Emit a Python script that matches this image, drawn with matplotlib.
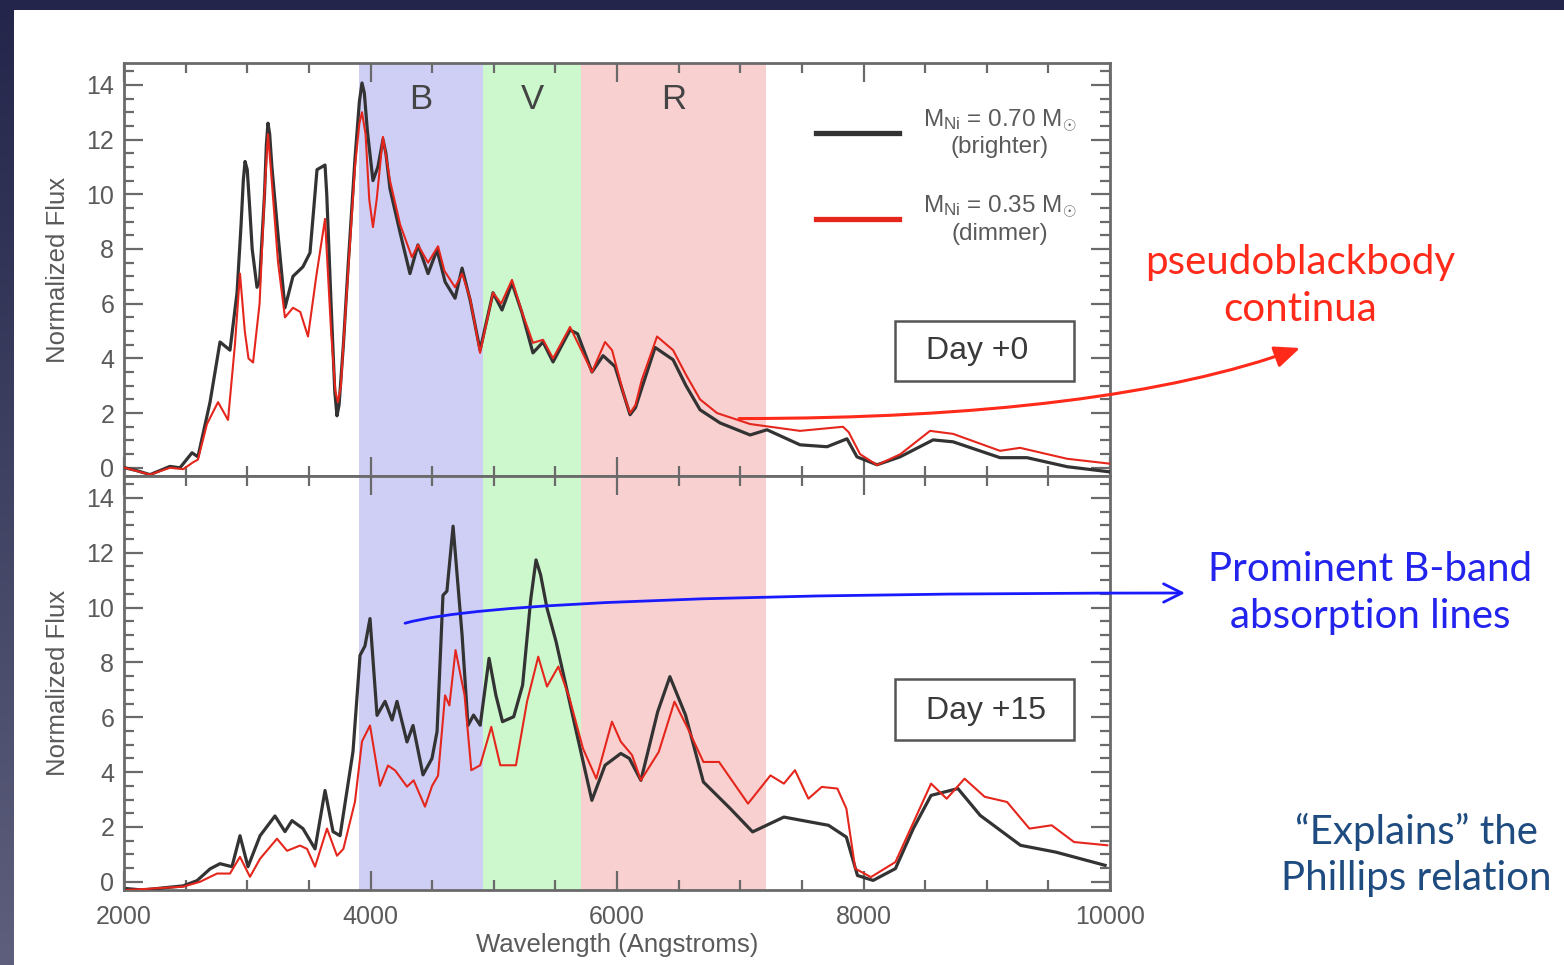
import numpy as np
import matplotlib
matplotlib.use("Agg")
import matplotlib.pyplot as plt
from matplotlib.patches import Rectangle
from matplotlib.ticker import MultipleLocator
from matplotlib.colors import LinearSegmentedColormap

plt.rcParams['font.family'] = ['Liberation Sans', 'DejaVu Sans']
plt.rcParams['mathtext.fontset'] = 'custom'
plt.rcParams['mathtext.rm'] = 'Liberation Sans'
plt.rcParams['mathtext.it'] = 'Liberation Sans:italic'

# ---- Day +0 spectra (wavelength in Angstroms, normalized flux) ----
day0_bright_wl = [2008, 2100, 2211, 2373, 2454, 2552, 2600, 2698, 2779, 2860, 2917, 2950,
                  2968, 2982, 3000, 3020, 3040, 3079, 3100, 3140, 3155, 3168, 3182, 3200,
                  3250, 3306, 3371, 3452, 3509, 3540, 3566, 3631, 3645, 3680, 3710, 3728,
                  3745, 3780, 3820, 3874, 3910, 3931, 3950, 3975, 4020, 4060, 4101, 4125,
                  4158, 4240, 4320, 4385, 4467, 4540, 4605, 4686, 4743, 4808, 4889,
                  4994, 5067, 5148, 5229, 5318, 5400, 5481, 5619, 5680, 5797, 5887, 5984,
                  6060, 6106, 6150, 6200, 6309, 6455, 6560, 6674, 6836, 7080, 7217, 7485,
                  7704, 7866, 7947, 8110, 8297, 8565, 8727, 9108, 9327, 9652, 10000]
day0_bright_flux = [0.0, -0.1, -0.25, 0.05, 0.0, 0.55, 0.4, 2.4, 4.6, 4.3, 6.4, 8.9,
                    10.5, 11.2, 10.9, 9.5, 8.0, 6.6, 6.8, 10.0, 11.8, 12.6, 12.2, 11.0,
                    8.5, 5.85, 7.0, 7.35, 7.86, 9.5, 10.9, 11.07, 10.0, 6.0, 2.8, 1.9,
                    2.3, 4.5, 7.5, 11.3, 13.4, 14.07, 13.7, 12.3, 10.5, 11.0, 12.0, 11.5,
                    10.2, 8.6, 7.1, 8.15, 7.1, 7.97, 6.8, 6.2, 7.3, 6.14, 4.3,
                    6.4, 5.77, 6.76, 5.67, 4.2, 4.6, 3.87, 5.04, 4.9, 3.5, 4.1, 3.7,
                    2.6, 1.94, 2.2, 2.9, 4.4, 3.95, 3.0, 2.12, 1.64, 1.2, 1.39, 0.84,
                    0.77, 1.06, 0.4, 0.11, 0.4, 1.02, 0.95, 0.37, 0.37, 0.04, -0.15]

day0_dim_wl = [2008, 2211, 2373, 2480, 2560, 2600, 2673, 2763, 2844, 2900, 2941, 2980,
               3010, 3047, 3100, 3140, 3168, 3190, 3250, 3306, 3371, 3430, 3493, 3560,
               3631, 3680, 3715, 3736, 3760, 3780, 3874, 3910, 3931, 3960, 3990, 4020,
               4050, 4101, 4158, 4240, 4336, 4385, 4467, 4548, 4600, 4686, 4743, 4808,
               4889, 4994, 5060, 5148, 5229, 5318, 5400, 5481, 5619, 5797, 5903, 5960,
               6060, 6106, 6150, 6200, 6325, 6455, 6560, 6674, 6812, 7080, 7485, 7834,
               7880, 7972, 8110, 8300, 8540, 8727, 9108, 9270, 9652, 10000]
day0_dim_flux = [0.0, -0.25, 0.0, -0.05, 0.2, 0.3, 1.6, 2.4, 1.75, 4.5, 7.1, 5.0,
                 4.0, 3.85, 6.0, 10.0, 12.2, 11.0, 7.5, 5.5, 5.85, 5.7, 4.8, 7.0,
                 9.1, 5.0, 2.8, 2.4, 3.0, 4.5, 11.0, 12.6, 13.0, 12.2, 9.8, 8.8,
                 9.8, 12.1, 10.5, 8.9, 7.7, 8.15, 7.5, 8.1, 7.2, 6.6, 7.1, 6.2,
                 4.2, 6.4, 6.0, 6.87, 5.7, 4.57, 4.68, 4.0, 5.15, 3.5, 4.6, 4.3,
                 2.6, 2.0, 2.3, 3.2, 4.8, 4.3, 3.4, 2.5, 2.0, 1.6, 1.35, 1.5,
                 1.3, 0.5, 0.1, 0.5, 1.35, 1.24, 0.62, 0.73, 0.33, 0.15]

# ---- Day +15 spectra ----
day15_bright_wl = [2024, 2150, 2479, 2592, 2698, 2779, 2876, 2941, 3006, 3104, 3225, 3306,
                   3363, 3452, 3550, 3631, 3696, 3753, 3858, 3915, 3955, 3996, 4053, 4118,
                   4175, 4215, 4296, 4345, 4426, 4499, 4540, 4588, 4620, 4670, 4743, 4791,
                   4836, 4890, 4962, 5017, 5071, 5162, 5234, 5300, 5343, 5380, 5432, 5505,
                   5651, 5796, 5903, 6031, 6100, 6194, 6330, 6429, 6556, 6701, 6919, 7100,
                   7354, 7570, 7716, 7861, 7951, 8078, 8259, 8404, 8548, 8766, 8947, 9274,
                   9562, 9960]
day15_bright_flux = [-0.25, -0.3, -0.15, 0.04, 0.47, 0.66, 0.55, 1.68, 0.55, 1.68, 2.4, 1.83,
                     2.23, 1.94, 1.2, 3.33, 1.83, 1.68, 4.75, 8.26, 8.6, 9.6, 6.07, 6.58,
                     5.9, 6.58, 5.1, 5.7, 3.9, 4.5, 5.48, 10.45, 10.6, 12.97, 9.0, 5.7,
                     6.08, 5.71, 8.15, 6.81, 5.84, 6.02, 7.17, 10.3, 11.74, 11.2, 9.98, 8.77,
                     5.85, 2.97, 4.25, 4.68, 4.5, 3.7, 6.2, 7.48, 6.08, 3.64, 2.67, 1.82,
                     2.36, 2.18, 2.06, 1.63, 0.23, 0.05, 0.48, 1.94, 3.15, 3.4, 2.42, 1.33,
                     1.08, 0.6]

day15_dim_wl = [2024, 2479, 2617, 2755, 2860, 2941, 3022, 3104, 3241, 3323, 3428, 3485,
                3550, 3647, 3728, 3780, 3874, 3931, 3996, 4077, 4142, 4200, 4296, 4350,
                4442, 4500, 4548, 4605, 4640, 4690, 4763, 4818, 4890, 4980, 5053, 5180,
                5270, 5361, 5432, 5524, 5615, 5724, 5832, 5959, 6031, 6122, 6194, 6339,
                6466, 6575, 6701, 6828, 7063, 7245, 7354, 7444, 7553, 7661, 7788, 7861,
                7933, 8060, 8259, 8548, 8675, 8820, 8983, 9165, 9346, 9527, 9708, 9979]
day15_dim_flux = [-0.3, -0.18, 0.0, 0.3, 0.3, 0.91, 0.18, 0.84, 1.57, 1.13, 1.32, 1.2,
                  0.55, 1.94, 0.95, 1.2, 2.92, 5.12, 5.7, 3.5, 4.24, 4.06, 3.47, 3.7,
                  2.74, 3.5, 3.87, 6.8, 6.43, 8.45, 6.81, 4.07, 4.25, 5.65, 4.25, 4.25,
                  6.57, 8.21, 7.12, 7.85, 6.69, 4.86, 3.76, 5.84, 5.11, 4.62, 3.7, 4.74,
                  6.57, 5.59, 4.37, 4.37, 2.85, 3.88, 3.58, 4.07, 3.03, 3.46, 3.4, 2.67,
                  0.48, 0.17, 0.72, 3.58, 3.03, 3.76, 3.1, 2.91, 1.94, 2.06, 1.45, 1.33]

# ---- photometric bands ----
band_names = ["B", "V", "R"]
band_edges = [(3910, 4910), (4910, 5710), (5710, 7210)]
band_colors = ["#cfcff6", "#cdf8cd", "#f8d0d0"]

legend_labels = ["M$_{\\rm Ni}$ = 0.70 M$_{\\odot}$\n(brighter)",
                 "M$_{\\rm Ni}$ = 0.35 M$_{\\odot}$\n(dimmer)"]
panel_titles = ["Day +0", "Day +15"]

W, H = 1564, 965
fig = plt.figure(figsize=(W / 100, H / 100), dpi=100)

# slide background with dark border
bg = fig.add_axes([0, 0, 1, 1], zorder=-10)
bg.set_axis_off()
grad = np.linspace(0, 1, 256).reshape(-1, 1)
cmap = LinearSegmentedColormap.from_list("edge", ["#23254a", "#5d5f7c"])
bg.imshow(grad, cmap=cmap, aspect="auto", extent=[0, 1, 0, 1])
bg.add_patch(Rectangle((14 / W, 0), 1 - 14 / W, 1 - 10 / H, transform=bg.transAxes,
                       facecolor="white", edgecolor="none"))
bg.set_xlim(0, 1)
bg.set_ylim(0, 1)

left = 124 / W
width = (1110 - 124) / W
ax1 = fig.add_axes([left, 1 - 476 / H, width, (476 - 63) / H])
ax2 = fig.add_axes([left, 1 - 890 / H, width, (890 - 476) / H])

tick_grey = "#5a5a5a"
spine_grey = "#6a6a6a"

for ax in (ax1, ax2):
    for (lo, hi), c in zip(band_edges, band_colors):
        ax.axvspan(lo, hi, color=c, lw=0, zorder=0)
    ax.set_xlim(2000, 10000)
    ax.set_ylim(-0.3, 14.8)
    ax.xaxis.set_major_locator(MultipleLocator(2000))
    ax.xaxis.set_minor_locator(MultipleLocator(500))
    ax.yaxis.set_major_locator(MultipleLocator(2))
    ax.yaxis.set_minor_locator(MultipleLocator(0.5))
    ax.tick_params(which="both", direction="in", top=True, right=True,
                   colors=spine_grey, width=1.6, labelcolor=tick_grey, labelsize=18)
    ax.tick_params(which="major", length=14, pad=7)
    ax.tick_params(axis="x", which="major", pad=11)
    ax.tick_params(which="minor", length=7)
    for s in ax.spines.values():
        s.set_color(spine_grey)
        s.set_linewidth(2)
    ax.set_ylabel("Normalized Flux", fontsize=18.5, color=tick_grey, labelpad=12)

ax1.tick_params(labelbottom=False)

l1, = ax1.plot(day0_bright_wl, day0_bright_flux, color="#333333", lw=2.3, zorder=3,
               label=legend_labels[0])
l2, = ax1.plot(day0_dim_wl, day0_dim_flux, color="#e5261c", lw=1.5, zorder=4,
               label=legend_labels[1])
ax2.plot(day15_bright_wl, day15_bright_flux, color="#333333", lw=2.3, zorder=3)
ax2.plot(day15_dim_wl, day15_dim_flux, color="#e5261c", lw=1.5, zorder=4)

ax2.set_xlabel("Wavelength (Angstroms)", fontsize=18.5, color=tick_grey, labelpad=3)

# band letters
for name, (lo, hi) in zip(band_names, band_edges):
    ax1.text((lo + hi) / 2, 13.45, name, ha="center", va="center", fontsize=25,
             color="#444444", zorder=5)

# legend
leg = ax1.legend(loc="upper left", bbox_to_anchor=(0.702, 0.893), frameon=False,
                 fontsize=17.5, handlelength=3.4, handletextpad=1.0, labelspacing=1.45,
                 borderpad=0, borderaxespad=0)
for t in leg.get_texts():
    t.set_color(tick_grey)
    t.set_multialignment("center")
    t.set_linespacing(1.12)
for h in leg.legend_handles:
    h.set_linewidth(3.8)

# day boxes
box_specs = [(ax1, 0.782, 0.230, 0.1815, 0.145, 0.865, 0.303),
             (ax2, 0.782, 0.362, 0.1815, 0.148, 0.874, 0.432)]
for (ax, bx, by, bw, bh, tx, ty), title in zip(box_specs, panel_titles):
    ax.add_patch(Rectangle((bx, by), bw, bh, transform=ax.transAxes, facecolor="white",
                           edgecolor="#555555", lw=1.8, zorder=6))
    ax.text(tx, ty, title, transform=ax.transAxes, ha="center", va="center",
            fontsize=23, color="#3a3a3a", zorder=7)

# annotations
def fpix(x, y):
    return (x / W, 1 - y / H)

fig.text(*fpix(1300, 286), "pseudoblackbody\ncontinua", ha="center", va="center",
         fontsize=29, color="#ff2a1a", family="Lato", linespacing=1.32)
fig.text(*fpix(1370, 593), "Prominent B-band\nabsorption lines", ha="center", va="center",
         fontsize=29, color="#2323ee", family="Lato", linespacing=1.32)
fig.text(*fpix(1416, 855), "\u201cExplains\u201d the\nPhillips relation", ha="center",
         va="center", fontsize=29, color="#1f4c80", family="Lato", linespacing=1.32)

ax1.annotate("", xy=fpix(1300, 348), xycoords="figure fraction",
             xytext=(6990, 1.8), textcoords="data", annotation_clip=False,
             arrowprops=dict(arrowstyle="-|>,head_length=0.7,head_width=0.3",
                             color="#ff2a1a", lw=2.2, shrinkA=0, shrinkB=0,
                             mutation_scale=22,
                             connectionstyle="angle3,angleA=0,angleB=20"),
             zorder=8)
ax2.annotate("", xy=fpix(1185, 593), xycoords="figure fraction",
             xytext=(4280, 9.43), textcoords="data", annotation_clip=False,
             arrowprops=dict(arrowstyle="->,head_length=0.6,head_width=0.3",
                             color="#1a1aff", lw=2.0, shrinkA=0, shrinkB=0,
                             mutation_scale=22,
                             connectionstyle="angle3,angleA=16,angleB=0"),
             zorder=8)

fig.savefig("out.png", dpi=100)
